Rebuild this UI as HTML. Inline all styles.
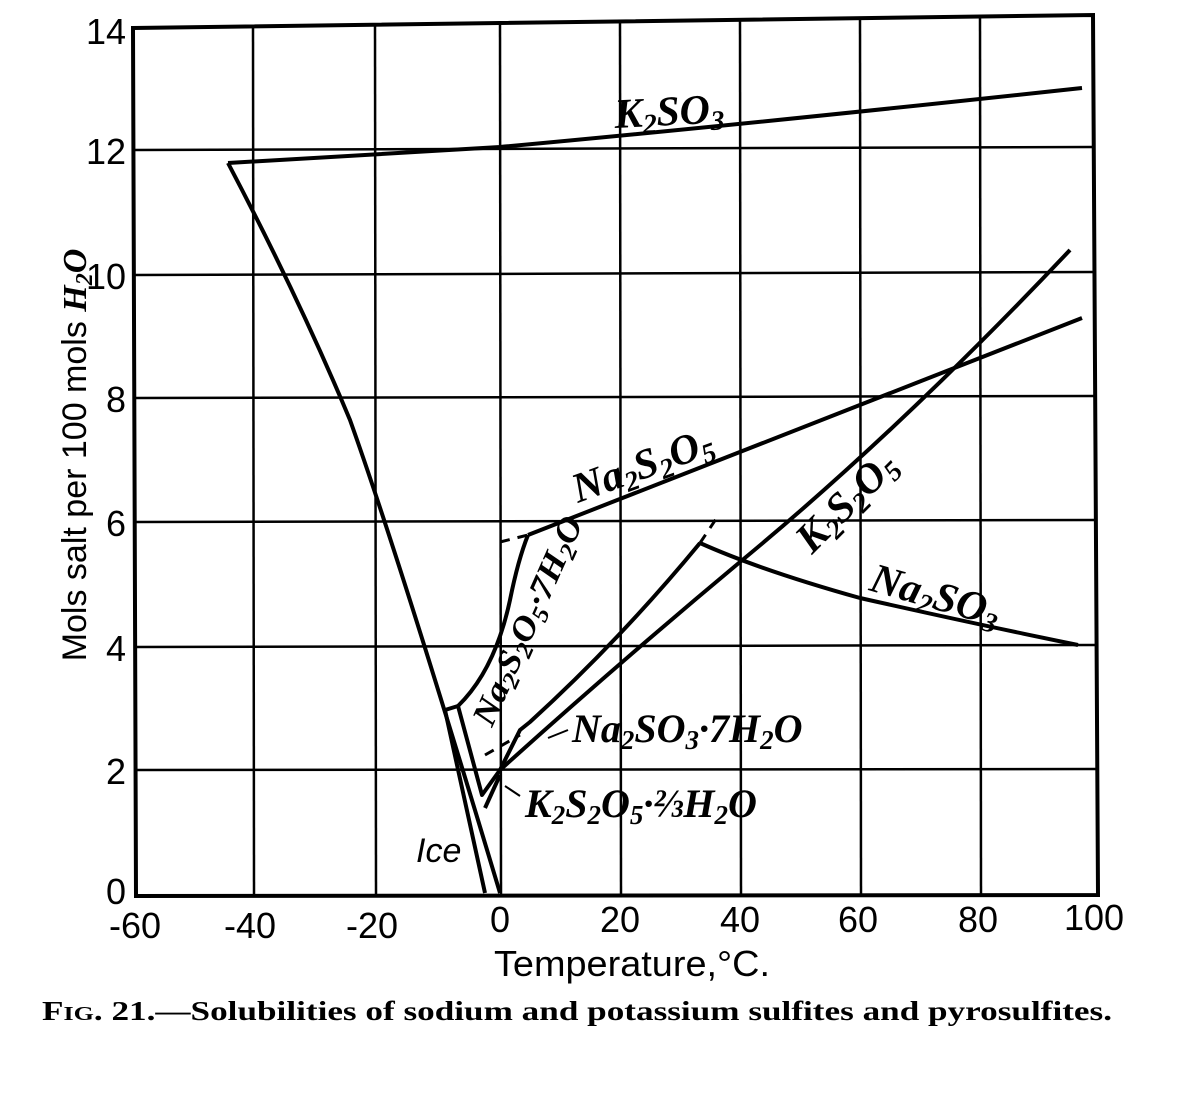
<!DOCTYPE html>
<html><head><meta charset="utf-8"><style>
body{margin:0;background:#fff;}
.s{font-family:"Liberation Sans",sans-serif;}
.r{font-family:"Liberation Serif",serif;}
</style></head><body>
<svg width="1186" height="1094" viewBox="0 0 1186 1094" xmlns="http://www.w3.org/2000/svg">
<g stroke="#000" fill="none">
<polygon points="133,28 1093,15 1098,895 136,896" stroke-width="4"/>
<g stroke-width="2.5">
<line x1="253" y1="27" x2="254" y2="895"/><line x1="375" y1="25" x2="376" y2="895"/>
<line x1="500" y1="23" x2="501" y2="895"/><line x1="620" y1="22" x2="621" y2="895"/>
<line x1="740" y1="20" x2="741" y2="895"/><line x1="860" y1="19" x2="861" y2="895"/>
<line x1="980" y1="17" x2="981" y2="895"/>
<line x1="133" y1="150" x2="1095" y2="147"/><line x1="133" y1="275" x2="1096" y2="272"/>
<line x1="134" y1="398" x2="1096" y2="396"/><line x1="134" y1="522" x2="1097" y2="520"/>
<line x1="135" y1="647" x2="1097" y2="645"/><line x1="135" y1="770" x2="1098" y2="769"/>
</g>
<g stroke-width="4" stroke-linejoin="round">
<path d="M228,163 L500,147 Q740,125 1082,88"/>
<path d="M228,163 Q300,300 350,420 Q400,560 500,893"/>
<path d="M445,710 L485,893 M445,710 L458,706"/>
<path d="M458,706 Q495,670 510,600 Q518,560 528,535"/>
<path d="M528,535 L1082,318"/>
<path d="M500,542 L528,535" stroke-dasharray="10,8" stroke-width="3"/>
<path d="M458,706 L482,795 L500,770"/>
<path d="M500,770 Q620,662 740,562 Q900,430 1070,250"/>
<path d="M500,770 L520,730 L530,722 Q620,640 700,543"/>
<path d="M700,543 L718,516" stroke-dasharray="10,8" stroke-width="3"/>
<path d="M700,543 Q760,570 860,598 Q980,625 1078,645"/>
<path d="M485,755 L520,735" stroke-dasharray="10,8" stroke-width="3"/>
<path d="M485,808 L500,775"/>
</g>
<g stroke-width="2">
<line x1="568" y1="730" x2="548" y2="738"/>
<line x1="520" y1="796" x2="505" y2="786"/>
</g>
</g>
<g class="s" font-size="36" text-anchor="end">
<text x="126" y="44" class="s">14</text>
<text x="126" y="164" class="s">12</text>
<text x="126" y="289" class="s">10</text>
<text x="126" y="412" class="s">8</text>
<text x="126" y="536" class="s">6</text>
<text x="126" y="661" class="s">4</text>
<text x="126" y="784" class="s">2</text>
<text x="126" y="904" class="s">0</text>
</g>
<g font-size="36" text-anchor="middle">
<text x="135" y="938" class="s">-60</text>
<text x="250" y="938" class="s">-40</text>
<text x="372" y="938" class="s">-20</text>
<text x="500" y="932" class="s">0</text>
<text x="620" y="932" class="s">20</text>
<text x="740" y="932" class="s">40</text>
<text x="858" y="932" class="s">60</text>
<text x="978" y="932" class="s">80</text>
<text x="1094" y="930" class="s">100</text>
</g>
<text x="494" y="976" font-size="36" class="s" textLength="276" lengthAdjust="spacingAndGlyphs">Temperature,°C.</text>
<text transform="translate(86,455) rotate(-90)" text-anchor="middle" font-size="34" class="s">Mols salt per 100 mols <tspan font-weight="bold" font-style="italic" class="r">H<tspan font-size="24" dy="6">2</tspan><tspan dy="-6">O</tspan></tspan></text>
<g font-style="italic" font-weight="bold" font-size="42" class="r">
<text x="615" y="128" class="r" transform="rotate(-3 615 128)">K<tspan font-size="28" dy="7">2</tspan><tspan dy="-7">SO</tspan><tspan font-size="28" dy="7">3</tspan></text>
<text x="578" y="503" class="r" transform="rotate(-20 578 503)">Na<tspan font-size="28" dy="7">2</tspan><tspan dy="-7">S</tspan><tspan font-size="28" dy="7">2</tspan><tspan dy="-7">O</tspan><tspan font-size="28" dy="7">5</tspan></text>
<text x="812" y="555" class="r" transform="rotate(-45 812 555)">K<tspan font-size="28" dy="7">2</tspan><tspan dy="-7">S</tspan><tspan font-size="28" dy="7">2</tspan><tspan dy="-7">O</tspan><tspan font-size="28" dy="7">5</tspan></text>
<text x="868" y="590" class="r" transform="rotate(16 868 590)">Na<tspan font-size="28" dy="7">2</tspan><tspan dy="-7">SO</tspan><tspan font-size="28" dy="7">3</tspan></text>
<text x="492" y="728" class="r" font-size="34" transform="rotate(-66 492 728)" textLength="225" lengthAdjust="spacingAndGlyphs">Na<tspan font-size="24" dy="6">2</tspan><tspan dy="-6">S</tspan><tspan font-size="24" dy="6">2</tspan><tspan dy="-6">O</tspan><tspan font-size="24" dy="6">5</tspan><tspan dy="-6">·7H</tspan><tspan font-size="24" dy="6">2</tspan><tspan dy="-6">O</tspan></text>
<text x="572" y="742" class="r" font-size="40">Na<tspan font-size="27" dy="7">2</tspan><tspan dy="-7">SO</tspan><tspan font-size="27" dy="7">3</tspan><tspan dy="-7">·7H</tspan><tspan font-size="27" dy="7">2</tspan><tspan dy="-7">O</tspan></text>
<text x="525" y="817" class="r" font-size="40">K<tspan font-size="27" dy="7">2</tspan><tspan dy="-7">S</tspan><tspan font-size="27" dy="7">2</tspan><tspan dy="-7">O</tspan><tspan font-size="27" dy="7">5</tspan><tspan dy="-7">·⅔H</tspan><tspan font-size="27" dy="7">2</tspan><tspan dy="-7">O</tspan></text>
</g>
<text x="416" y="862" font-style="italic" font-size="34" class="s">Ice</text>
<text x="42" y="1020" font-size="27" class="r" font-weight="bold" textLength="1070" lengthAdjust="spacingAndGlyphs">F<tspan font-size="20">IG</tspan>. 21.—Solubilities of sodium and potassium sulfites and pyrosulfites.</text>
</svg>
</body></html>
